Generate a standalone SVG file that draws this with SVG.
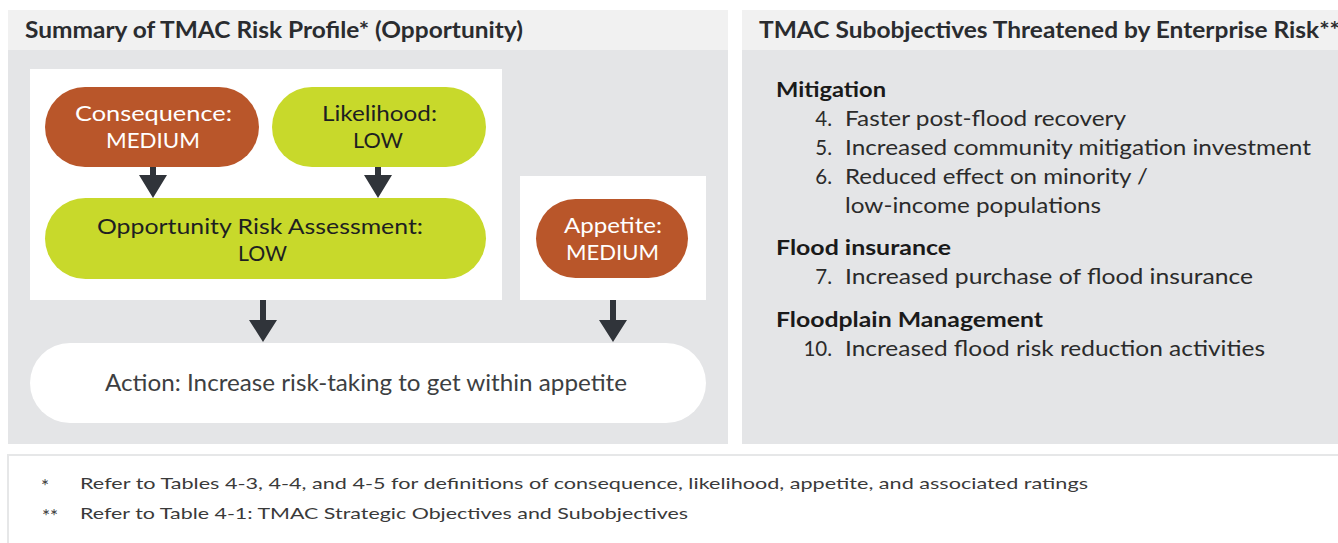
<svg xmlns="http://www.w3.org/2000/svg" width="1338" height="543" viewBox="0 0 1338 543">
<style>
text{font-family:Lato,"Liberation Sans",sans-serif;}
.hdr{font-size:22px;font-weight:bold;fill:#2a2c2f;}
.pill{font-size:22px;text-anchor:middle;}
.w{fill:#ffffff;}
.k{fill:#1e1f21;}
.sec{font-size:20.5px;font-weight:bold;fill:#1a1a1a;}
.it{font-size:20.5px;fill:#2b2b2b;}
.num{font-size:20.5px;fill:#2b2b2b;text-anchor:end;}
.ft{font-size:16px;fill:#3a3a3a;}
.ast{font-size:19px;fill:#3a3a3a;}
.arr{fill:#30343a;}
</style>
<rect x="0" y="0" width="1338" height="543" fill="#ffffff"/>
<g id="left-panel">
<rect x="8" y="10" width="720" height="40" fill="#f1f1f1"/>
<rect x="8" y="50" width="720" height="394" fill="#e4e5e7"/>
<text class="hdr" x="25" y="38" textLength="498" lengthAdjust="spacingAndGlyphs">Summary of TMAC Risk Profile* (Opportunity)</text>
<rect x="30" y="69" width="472" height="231" fill="#ffffff"/>
<rect x="520" y="176" width="186" height="124" fill="#ffffff"/>
</g>
<g id="right-panel">
<rect x="742" y="10" width="600" height="40" fill="#f1f1f1"/>
<rect x="742" y="50" width="600" height="394" fill="#e4e5e7"/>
<text class="hdr" x="759" y="38" textLength="581" lengthAdjust="spacingAndGlyphs">TMAC Subobjectives Threatened by Enterprise Risk**</text>
<text class="sec" x="776" y="97" textLength="110" lengthAdjust="spacingAndGlyphs">Mitigation</text>
<text class="num" x="832" y="126">4.</text><text class="it" x="845" y="126" textLength="281" lengthAdjust="spacingAndGlyphs">Faster post-flood recovery</text>
<text class="num" x="832" y="155">5.</text><text class="it" x="845" y="155" textLength="466" lengthAdjust="spacingAndGlyphs">Increased community mitigation investment</text>
<text class="num" x="832" y="184">6.</text><text class="it" x="845" y="184" textLength="303" lengthAdjust="spacingAndGlyphs">Reduced effect on minority /</text>
<text class="it" x="845" y="213" textLength="256" lengthAdjust="spacingAndGlyphs">low-income populations</text>
<text class="sec" x="776" y="255" textLength="175" lengthAdjust="spacingAndGlyphs">Flood insurance</text>
<text class="num" x="832" y="284">7.</text><text class="it" x="845" y="284" textLength="408" lengthAdjust="spacingAndGlyphs">Increased purchase of flood insurance</text>
<text class="sec" x="776" y="327" textLength="267" lengthAdjust="spacingAndGlyphs">Floodplain Management</text>
<text class="num" x="832" y="356">10.</text><text class="it" x="845" y="356" textLength="420" lengthAdjust="spacingAndGlyphs">Increased flood risk reduction activities</text>
</g>
<g id="consequence">
<rect x="45" y="87" width="214" height="80" rx="40" fill="#b9562a"/>
<text class="pill w" x="153.5" y="121" textLength="157" lengthAdjust="spacingAndGlyphs">Consequence:</text>
<text class="pill w" x="153" y="148" textLength="94" lengthAdjust="spacingAndGlyphs">MEDIUM</text>
</g>
<g id="likelihood">
<rect x="272" y="87" width="214" height="80" rx="40" fill="#c8d92b"/>
<text class="pill k" x="379.5" y="121" textLength="115" lengthAdjust="spacingAndGlyphs">Likelihood:</text>
<text class="pill k" x="378" y="148" textLength="50" lengthAdjust="spacingAndGlyphs">LOW</text>
</g>
<g id="assessment">
<rect x="45" y="198" width="441" height="81" rx="40.5" fill="#c8d92b"/>
<text class="pill k" x="260" y="234" textLength="326" lengthAdjust="spacingAndGlyphs">Opportunity Risk Assessment:</text>
<text class="pill k" x="262.5" y="261" textLength="49" lengthAdjust="spacingAndGlyphs">LOW</text>
</g>
<g id="appetite">
<rect x="536" y="199" width="152" height="79" rx="39.5" fill="#b9562a"/>
<text class="pill w" x="613" y="233" textLength="98" lengthAdjust="spacingAndGlyphs">Appetite:</text>
<text class="pill w" x="612.5" y="260" textLength="93" lengthAdjust="spacingAndGlyphs">MEDIUM</text>
</g>
<g id="action">
<rect x="30" y="343" width="676" height="80" rx="40" fill="#ffffff"/>
<text x="105" y="391" font-size="23" fill="#3d3f42" textLength="522" lengthAdjust="spacingAndGlyphs">Action: Increase risk-taking to get within appetite</text>
</g>
<g id="connectors">
<path class="arr" d="M150 167h6v8h11l-14 23l-14-23h11z"/>
<path class="arr" d="M375 167h6v8h11l-14 23l-14-23h11z"/>
<path class="arr" d="M260 300h6v20h11l-14 22l-14-22h11z"/>
<path class="arr" d="M610 300h6v20h11l-14 22l-14-22h11z"/>
</g>
<g id="footer">
<rect x="8" y="455" width="1340" height="95" fill="#ffffff" stroke="#e6e7e8" stroke-width="2"/>
<text class="ast" x="41" y="493">*</text>
<text class="ft" x="80" y="489" textLength="1008" lengthAdjust="spacingAndGlyphs">Refer to Tables 4-3, 4-4, and 4-5 for definitions of consequence, likelihood, appetite, and associated ratings</text>
<text class="ast" x="42" y="523">**</text>
<text class="ft" x="80" y="519" textLength="608" lengthAdjust="spacingAndGlyphs">Refer to Table 4-1: TMAC Strategic Objectives and Subobjectives</text>
</g>
</svg>
